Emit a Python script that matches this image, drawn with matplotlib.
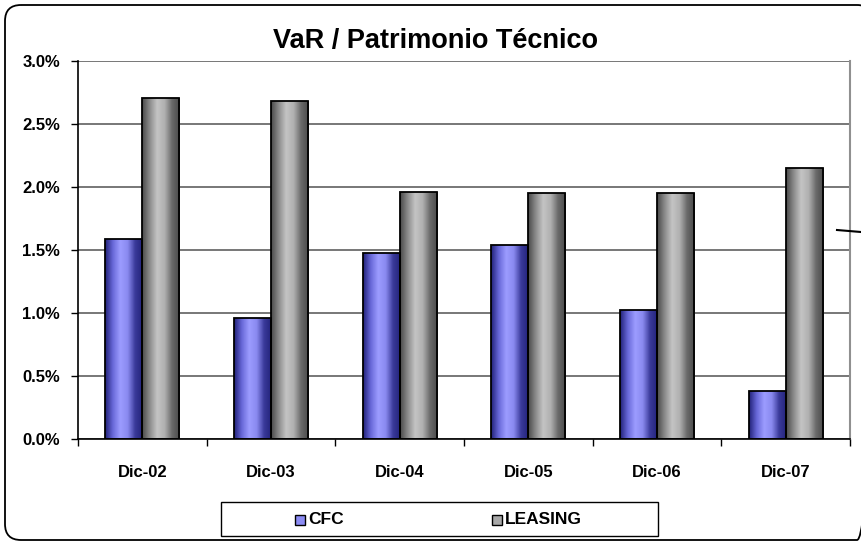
import matplotlib
matplotlib.use("Agg")
import matplotlib.pyplot as plt
import numpy as np
from matplotlib.colors import LinearSegmentedColormap
from matplotlib.patches import FancyBboxPatch, Rectangle
from matplotlib.lines import Line2D
from matplotlib.ticker import FuncFormatter, MultipleLocator

plt.rcParams['font.family'] = ['Liberation Sans', 'DejaVu Sans']

categories = ["Dic-02", "Dic-03", "Dic-04", "Dic-05", "Dic-06", "Dic-07"]
cfc = [1.585, 0.96, 1.48, 1.54, 1.02, 0.38]
leasing = [2.71, 2.68, 1.96, 1.95, 1.95, 2.15]
series_names = ["CFC", "LEASING"]
title = "VaR / Patrimonio Técnico"

W, H = 861, 542
fig = plt.figure(figsize=(W/100, H/100), dpi=100)

def fx(px):
    return px / W

def fy(py):
    return 1 - py / H

# background overlay axes in pixel coordinates for decorations
bg = fig.add_axes([0, 0, 1, 1], zorder=-1)
bg.set_xlim(0, W)
bg.set_ylim(H, 0)
bg.axis('off')
bg.add_patch(FancyBboxPatch((5, 5), 873 - 5, 540 - 5,
                            boxstyle="round,pad=0,rounding_size=16",
                            facecolor='none', edgecolor='black', linewidth=1.3))

ax = fig.add_axes([fx(78), fy(439), (850-78)/W, (439-61)/H])
ax.set_facecolor('none')

x = np.arange(len(categories))
bw = 0.288
cmap_cfc = LinearSegmentedColormap.from_list("c", ["#22227a", "#6868d8", "#9c9cff", "#8a8af0", "#3a3a9a", "#22227a"])
cmap_lea = LinearSegmentedColormap.from_list("l", ["#4a4a4a", "#8c8c8c", "#c4c4c4", "#b0b0b0", "#6a6a6a", "#4a4a4a"])
grad = np.linspace(0, 1, 64).reshape(1, -1)

for vals, off, cm in [(cfc, -bw/2, cmap_cfc), (leasing, bw/2, cmap_lea)]:
    bars = ax.bar(x + off, vals, width=bw, facecolor='none', edgecolor='black', linewidth=1.3, zorder=3)
    for b in bars:
        bx, by = b.get_x(), b.get_y()
        bwid, bh = b.get_width(), b.get_height()
        im = ax.imshow(grad, extent=[bx, bx+bwid, by, by+bh], aspect='auto', cmap=cm, zorder=2)
        im.set_clip_path(b)

ax.set_xlim(-0.5, len(categories)-0.5)
ax.set_ylim(0, 3.0)
ax.yaxis.set_major_locator(MultipleLocator(0.5))
ax.yaxis.set_major_formatter(FuncFormatter(lambda v, p: f"{v:.1f}%"))
ax.grid(axis='y', color='#606060', linewidth=1.2, zorder=1)
ax.set_axisbelow(True)

ax.set_xticks(x)
ax.set_xticklabels(categories, fontsize=12, fontweight='bold')
ax.set_xticks(np.arange(len(categories)+1) - 0.5, minor=True)
ax.tick_params(axis='x', which='major', length=0, pad=24)
ax.tick_params(axis='x', which='minor', length=5, width=1, direction='out')
ax.tick_params(axis='y', length=5, width=1, direction='out', pad=8)
for lbl in ax.get_yticklabels():
    lbl.set_fontweight('bold')
    lbl.set_fontsize(12)
for lbl in ax.get_xticklabels():
    lbl.set_va('center')

for s in ['left', 'bottom']:
    ax.spines[s].set_color('black')
    ax.spines[s].set_linewidth(1.2)
ax.spines['top'].set_visible(False)
ax.spines['right'].set_color('#909090')
ax.spines['right'].set_linewidth(1.5)

fig.text(fx(436), fy(41), title, ha='center', va='center', fontsize=19.5, fontweight='bold')

# legend box
fig.add_artist(Rectangle((fx(221), fy(536)), (658-221)/W, (536-502)/H, transform=fig.transFigure,
                         facecolor='white', edgecolor='black', linewidth=1.0))
for name, sx, col in [(series_names[0], 295, '#8c8cf4'), (series_names[1], 492, '#a8a8a8')]:
    fig.add_artist(Rectangle((fx(sx), fy(525)), 10/W, 10/H, transform=fig.transFigure,
                             facecolor=col, edgecolor='black', linewidth=1.0))
    fig.text(fx(sx + 13), fy(520), name, ha='left', va='center', fontsize=12.5, fontweight='bold')

# small arrow fragment on right
fig.add_artist(Line2D([fx(837), fx(861)], [fy(230), fy(232)], transform=fig.transFigure, color='black', linewidth=1.5))

fig.savefig("out.png", dpi=100)
